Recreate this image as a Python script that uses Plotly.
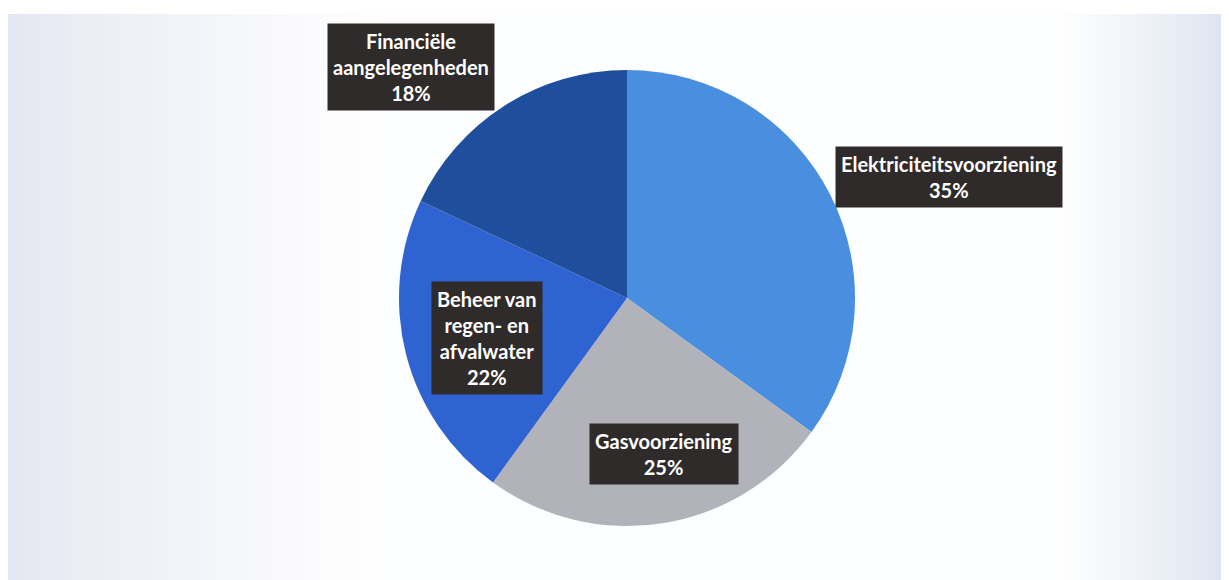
import plotly.graph_objects as go

labels = ["Elektriciteitsvoorziening", "Gasvoorziening",
          "Beheer van<br>regen- en<br>afvalwater", "Financiële<br>aangelegenheden"]
values = [35, 25, 22, 18]
colors = ["#4a8ee0", "#b2b3ba", "#2f63d1", "#1f4f9c"]

W, H = 1229, 580
OFF = 8  # page body margin offset


def px_x(p):
    return (p - OFF) / W


def px_y(p):
    return 1 - (p - OFF) / H


fig = go.Figure(go.Pie(
    labels=labels, values=values, sort=False, direction="clockwise", rotation=0,
    marker=dict(colors=colors, line=dict(width=0)),
    textinfo="none", hoverinfo="label+percent", showlegend=False,
    domain=dict(x=[px_x(399), px_x(855)], y=[px_y(526), px_y(70)]),
))

# label box centres (pixels)
label_pos = [(949, 177), (664, 454), (487, 338), (411, 67)]
total = sum(values)
for lab, v, (px, py) in zip(labels, values, label_pos):
    fig.add_annotation(
        x=px_x(px), y=px_y(py), xref="paper", yref="paper",
        xanchor="center", yanchor="middle",
        text=f"<b>{lab}<br>{round(v / total * 100)}%</b>", showarrow=False,
        font=dict(family="Lato", size=20, color="white"),
        bgcolor="#302b2b", borderpad=5, align="center",
    )


# background: vertical strips, bluish grey at the sides fading to white
def bg_color(x):
    left = (228, 231, 241)
    right = (222, 228, 240)
    if x < 380:
        t = max(0.0, min(1.0, (x - 10) / 370))
        t = t ** 0.8
        c = [l + (255 - l) * t for l in left]
    elif x > 1060:
        t = max(0.0, min(1.0, (1229 - x) / 169))
        c = [r + (255 - r) * t for r in right]
    else:
        c = [253, 254, 255]
    return "rgb(%d,%d,%d)" % tuple(int(v) for v in c)


shapes = []
step = 8
for x in range(8, 1240, step):
    shapes.append(dict(type="rect", xref="paper", yref="paper", x0=px_x(x), x1=px_x(x + step + 1),
                       y0=0, y1=px_y(14), fillcolor=bg_color(x + step / 2),
                       line=dict(width=0), layer="below"))

fig.update_layout(
    width=W, height=H, margin=dict(l=0, r=0, t=0, b=0),
    paper_bgcolor="white", shapes=shapes,
)
fig.write_html("out.html")
